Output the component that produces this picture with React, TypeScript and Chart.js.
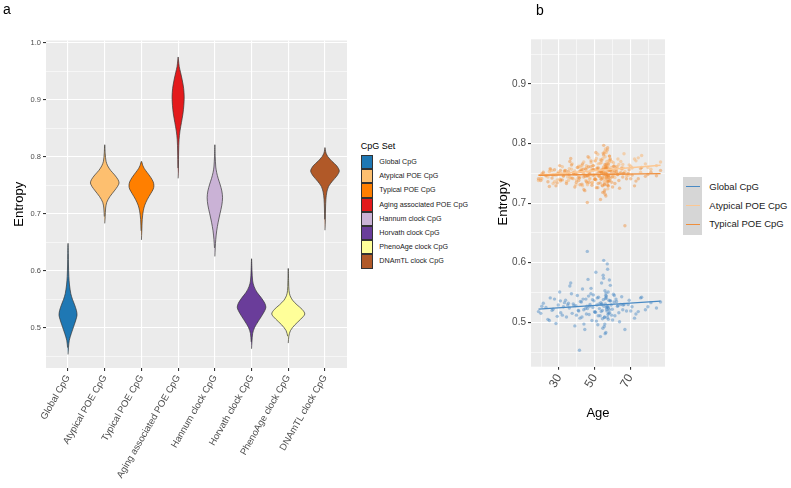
import React, { useEffect, useRef } from "react";
import { Chart, registerables } from "chart.js";
Chart.register(...registerables);

const FONT = "'Liberation Sans', Arial, Helvetica, sans-serif";

// ---------- Panel a : violins ----------
const categories = [
  "Global CpG",
  "Atypical POE CpG",
  "Typical POE CpG",
  "Aging associated POE CpG",
  "Hannum clock CpG",
  "Horvath clock CpG",
  "PhenoAge clock CpG",
  "DNAmTL clock CpG",
];
const violinColors = ["#1f78b4", "#fdbf6f", "#ff7f00", "#e31a1c", "#cab2d6", "#6a3d9a", "#ffff99", "#b15928"];

// density profiles: entropy level -> half width (category units)
const globalLevels = [0.453, 0.465, 0.478, 0.49, 0.505, 0.515, 0.522, 0.53, 0.54, 0.55, 0.56, 0.575, 0.59, 0.61, 0.63, 0.648];
const globalWidths = [0, 0.012, 0.035, 0.09, 0.17, 0.22, 0.245, 0.23, 0.18, 0.12, 0.075, 0.04, 0.022, 0.012, 0.008, 0];
const atypicalLevels = [0.683, 0.695, 0.71, 0.72, 0.73, 0.74, 0.748, 0.754, 0.76, 0.768, 0.776, 0.784, 0.792, 0.805, 0.821];
const atypicalWidths = [0, 0.012, 0.025, 0.055, 0.14, 0.26, 0.35, 0.39, 0.36, 0.27, 0.16, 0.08, 0.035, 0.014, 0];
const typicalLevels = [0.654, 0.67, 0.69, 0.705, 0.715, 0.725, 0.735, 0.743, 0.749, 0.756, 0.764, 0.772, 0.779, 0.785, 0.792];
const typicalWidths = [0, 0.01, 0.022, 0.05, 0.09, 0.16, 0.25, 0.32, 0.34, 0.32, 0.25, 0.16, 0.08, 0.035, 0];
const agingLevels = [0.762, 0.78, 0.81, 0.83, 0.845, 0.86, 0.875, 0.89, 0.905, 0.92, 0.935, 0.948, 0.958, 0.968, 0.975];
const agingWidths = [0, 0.008, 0.014, 0.025, 0.05, 0.09, 0.13, 0.155, 0.165, 0.15, 0.11, 0.065, 0.03, 0.012, 0];
const hannumLevels = [0.625, 0.64, 0.655, 0.67, 0.685, 0.7, 0.715, 0.728, 0.74, 0.752, 0.762, 0.772, 0.782, 0.8, 0.821];
const hannumWidths = [0, 0.01, 0.025, 0.05, 0.09, 0.14, 0.19, 0.21, 0.19, 0.14, 0.09, 0.05, 0.025, 0.01, 0];
const horvathLevels = [0.463, 0.475, 0.49, 0.5, 0.51, 0.52, 0.53, 0.536, 0.543, 0.552, 0.562, 0.572, 0.582, 0.6, 0.621];
const horvathWidths = [0, 0.01, 0.03, 0.08, 0.17, 0.27, 0.36, 0.39, 0.36, 0.27, 0.15, 0.07, 0.03, 0.012, 0];
const phenoLevels = [0.473, 0.485, 0.495, 0.505, 0.515, 0.524, 0.532, 0.54, 0.548, 0.556, 0.565, 0.58, 0.604];
const phenoWidths = [0, 0.015, 0.06, 0.18, 0.34, 0.45, 0.38, 0.24, 0.12, 0.05, 0.02, 0.01, 0];
const dnamtlLevels = [0.671, 0.69, 0.71, 0.725, 0.738, 0.748, 0.757, 0.766, 0.775, 0.784, 0.792, 0.8, 0.806, 0.812, 0.816];
const dnamtlWidths = [0, 0.01, 0.015, 0.025, 0.05, 0.1, 0.2, 0.32, 0.39, 0.32, 0.19, 0.08, 0.03, 0.01, 0];

const violinProfiles = [
  [globalLevels, globalWidths],
  [atypicalLevels, atypicalWidths],
  [typicalLevels, typicalWidths],
  [agingLevels, agingWidths],
  [hannumLevels, hannumWidths],
  [horvathLevels, horvathWidths],
  [phenoLevels, phenoWidths],
  [dnamtlLevels, dnamtlWidths],
];

const yMajorA = [0.5, 0.6, 0.7, 0.8, 0.9, 1.0];
const yMinorA = [0.45, 0.55, 0.65, 0.75, 0.85, 0.95];

// ---------- Panel b : entropy vs age ----------
const ages = [
  18.5, 21.2, 23.8, 25.1, 26.7, 28.3, 29.6, 30.4, 31.9, 32.5,
  33.7, 34.2, 35.8, 36.1, 37.4, 38.0, 38.9, 39.5, 40.3, 41.1,
  41.8, 42.6, 43.2, 43.9, 44.5, 45.1, 45.7, 46.3, 46.9, 47.4,
  47.9, 48.5, 49.0, 49.6, 50.2, 50.7, 51.3, 51.8, 52.2, 52.7,
  53.1, 53.5, 53.9, 54.3, 54.6, 54.9, 55.2, 55.5, 55.8, 56.0,
  56.3, 56.6, 56.9, 57.1, 57.4, 57.7, 58.0, 58.4, 58.8, 59.3,
  59.9, 60.6, 61.4, 62.3, 63.1, 64.0, 65.2, 66.5, 67.9, 69.4,
  71.0, 73.2, 75.8, 78.5, 81.6, 84.7, 20.4, 24.6, 27.5, 31.0,
  34.9, 37.0, 39.8, 42.0, 44.0, 46.0, 48.0, 50.0, 51.5, 53.3,
  54.1, 55.0, 55.6, 56.2, 56.8, 57.3, 57.9, 58.6, 60.1, 62.8,
  64.7, 67.0, 70.3, 76.4, 22.7, 29.0, 33.1, 36.6, 40.8, 43.5,
  45.4, 47.2, 49.3, 51.0, 52.5, 53.7, 54.8, 55.4, 56.1, 56.7,
  57.2, 57.6, 58.2, 59.0, 61.0, 63.6, 66.0, 72.4, 35.3, 41.5,
  44.8, 48.8, 52.0, 55.1, 55.9, 56.4, 57.0, 57.5, 58.3, 60.9,
  19.8, 26.1, 30.8, 38.4, 42.9, 46.6, 50.5, 53.8, 55.7, 56.5,
  57.8, 59.6, 62.0, 65.8, 68.8, 74.5, 79.9, 87.0, 45.9, 54.4,
];
const globalEntropy = [
  0.518, 0.532, 0.505, 0.541, 0.522, 0.498, 0.529, 0.551, 0.512, 0.526,
  0.537, 0.509, 0.524, 0.561, 0.515, 0.531, 0.494, 0.528, 0.545, 0.519,
  0.507, 0.534, 0.556, 0.521, 0.488, 0.539, 0.527, 0.572, 0.513, 0.530,
  0.548, 0.503, 0.525, 0.536, 0.517, 0.584, 0.529, 0.496, 0.542, 0.523,
  0.511, 0.533, 0.566, 0.520, 0.490, 0.538, 0.527, 0.508, 0.553, 0.531,
  0.483, 0.544, 0.519, 0.598, 0.526, 0.505, 0.537, 0.516, 0.562, 0.529,
  0.522, 0.547, 0.511, 0.535, 0.528, 0.501, 0.543, 0.530, 0.519, 0.537,
  0.526, 0.514, 0.541, 0.521, 0.533, 0.524, 0.527, 0.503, 0.539, 0.516,
  0.529, 0.548, 0.512, 0.535, 0.497, 0.523, 0.557, 0.518, 0.541, 0.476,
  0.531, 0.574, 0.509, 0.545, 0.522, 0.589, 0.515, 0.536, 0.504, 0.527,
  0.530, 0.488, 0.519, 0.542, 0.525, 0.510, 0.533, 0.566, 0.520, 0.539,
  0.514, 0.527, 0.546, 0.502, 0.531, 0.518, 0.579, 0.493, 0.540, 0.525,
  0.508, 0.551, 0.521, 0.536, 0.545, 0.516, 0.529, 0.507, 0.532, 0.453,
  0.523, 0.538, 0.511, 0.604, 0.481, 0.549, 0.526, 0.513, 0.571, 0.534,
  0.515, 0.520, 0.536, 0.528, 0.509, 0.544, 0.517, 0.530, 0.497, 0.541,
  0.524, 0.512, 0.539, 0.521, 0.530, 0.518, 0.526, 0.534, 0.619, 0.506,
];
const atypicalEntropy = [
  0.738, 0.749, 0.744, 0.756, 0.733, 0.747, 0.752, 0.740, 0.761, 0.745,
  0.750, 0.736, 0.758, 0.743, 0.766, 0.741, 0.754, 0.731, 0.748, 0.762,
  0.744, 0.757, 0.729, 0.769, 0.747, 0.738, 0.760, 0.751, 0.776, 0.742,
  0.755, 0.734, 0.763, 0.748, 0.771, 0.739, 0.758, 0.782, 0.746, 0.753,
  0.767, 0.741, 0.756, 0.730, 0.775, 0.752, 0.761, 0.744, 0.787, 0.749,
  0.758, 0.736, 0.770, 0.753, 0.724, 0.764, 0.747, 0.779, 0.741, 0.760,
  0.755, 0.768, 0.743, 0.761, 0.774, 0.750, 0.757, 0.783, 0.746, 0.764,
  0.759, 0.771, 0.752, 0.766, 0.757, 0.763, 0.741, 0.753, 0.736, 0.750,
  0.744, 0.757, 0.739, 0.762, 0.749, 0.731, 0.768, 0.745, 0.756, 0.773,
  0.741, 0.760, 0.784, 0.749, 0.766, 0.737, 0.757, 0.772, 0.745, 0.761,
  0.770, 0.753, 0.762, 0.780, 0.747, 0.739, 0.755, 0.742, 0.760, 0.751,
  0.763, 0.740, 0.757, 0.775, 0.745, 0.768, 0.752, 0.736, 0.791, 0.749,
  0.761, 0.743, 0.772, 0.756, 0.748, 0.765, 0.759, 0.774, 0.738, 0.753,
  0.758, 0.735, 0.766, 0.750, 0.778, 0.744, 0.760, 0.729, 0.769, 0.755,
  0.742, 0.755, 0.737, 0.750, 0.763, 0.746, 0.771, 0.752, 0.740, 0.785,
  0.758, 0.770, 0.751, 0.765, 0.747, 0.776, 0.760, 0.769, 0.734, 0.757,
];
const typicalEntropy = [
  0.741, 0.752, 0.736, 0.758, 0.747, 0.729, 0.750, 0.763, 0.739, 0.746,
  0.755, 0.733, 0.748, 0.770, 0.742, 0.751, 0.727, 0.749, 0.760, 0.738,
  0.731, 0.754, 0.766, 0.744, 0.721, 0.757, 0.746, 0.778, 0.735, 0.750,
  0.761, 0.730, 0.747, 0.756, 0.740, 0.785, 0.749, 0.726, 0.759, 0.745,
  0.734, 0.753, 0.772, 0.743, 0.718, 0.757, 0.748, 0.732, 0.765, 0.751,
  0.712, 0.760, 0.741, 0.789, 0.747, 0.729, 0.755, 0.738, 0.774, 0.750,
  0.744, 0.762, 0.733, 0.753, 0.748, 0.725, 0.759, 0.750, 0.741, 0.756,
  0.747, 0.737, 0.758, 0.745, 0.752, 0.746, 0.749, 0.728, 0.756, 0.739,
  0.750, 0.764, 0.735, 0.754, 0.723, 0.746, 0.771, 0.740, 0.759, 0.706,
  0.752, 0.781, 0.731, 0.761, 0.744, 0.793, 0.737, 0.755, 0.727, 0.748,
  0.751, 0.662, 0.741, 0.760, 0.746, 0.734, 0.753, 0.775, 0.743, 0.757,
  0.736, 0.748, 0.763, 0.726, 0.752, 0.740, 0.784, 0.719, 0.758, 0.747,
  0.731, 0.766, 0.743, 0.755, 0.762, 0.738, 0.750, 0.729, 0.753, 0.742,
  0.745, 0.756, 0.733, 0.797, 0.715, 0.764, 0.748, 0.736, 0.779, 0.752,
  0.738, 0.742, 0.755, 0.749, 0.732, 0.761, 0.740, 0.751, 0.722, 0.758,
  0.746, 0.735, 0.757, 0.744, 0.750, 0.741, 0.748, 0.755, 0.701, 0.729,
];

// fitted lines (end points at youngest / oldest age)
const fitAges = [18.5, 87.0];
const fitGlobal = [0.5223, 0.5357];
const fitAtypical = [0.7468, 0.7636];
const fitTypical = [0.7468, 0.7497];

const seriesNamesB = ["Global CpG", "Atypical POE CpG", "Typical POE CpG"];
const lineColorsB = ["#4a8ac4", "#fcc792", "#ee8e3c"];
const pointColorsB = ["rgba(66,134,196,0.45)", "rgba(250,180,110,0.5)", "rgba(240,140,50,0.45)"];

const yMajorB = [0.5, 0.6, 0.7, 0.8, 0.9];
const yMinorB = [0.45, 0.55, 0.65, 0.75, 0.85, 0.95];
const xMajorB = [30, 50, 70];
const xMinorB = [20, 40, 60, 80];

const panelBg = {
  id: "panelBg",
  beforeDraw(chart: any) {
    const { ctx, chartArea } = chart;
    ctx.save();
    ctx.fillStyle = "#ebebeb";
    ctx.fillRect(chartArea.left, chartArea.top, chartArea.right - chartArea.left, chartArea.bottom - chartArea.top);
    ctx.restore();
  },
};

function gridStyle(major: number[]) {
  return {
    color: "#ffffff",
    lineWidth: (c: any) => (c.tick && major.includes(c.tick.value) ? 1.1 : 0.55),
    tickColor: (c: any) => (c.tick && major.includes(c.tick.value) ? "#333333" : "rgba(0,0,0,0)"),
    tickLength: 3,
    drawTicks: true,
  };
}

function ChartA() {
  const ref = useRef<HTMLCanvasElement>(null);
  useEffect(() => {
    const datasets = violinProfiles.map(([levels, widths], i) => {
      const right = levels.map((y, k) => ({ x: i + widths[k], y }));
      const left: { x: number; y: number }[] = [];
      for (let k = levels.length - 2; k >= 1; k--) left.push({ x: i - widths[k], y: levels[k] });
      return {
        type: "line" as const,
        data: [...right, ...left],
        borderColor: "#333333",
        borderWidth: 0.7,
        backgroundColor: violinColors[i],
        fill: "shape",
        pointRadius: 0,
        tension: 0.3,
      };
    });
    const chart = new Chart(ref.current!, {
      type: "line",
      data: { datasets: datasets as any },
      options: {
        animation: false,
        responsive: false,
        events: [],
        layout: { padding: { top: 40.5, right: 5, left: 0, bottom: 0 } },
        plugins: { legend: { display: false }, tooltip: { enabled: false } },
        scales: {
          x: {
            type: "linear",
            min: -0.6,
            max: 7.6,
            afterBuildTicks: (axis: any) => {
              axis.ticks = categories.map((_, i) => ({ value: i }));
            },
            afterFit: (s: any) => {
              s.height = 120;
            },
            ticks: {
              autoSkip: false,
              minRotation: 60,
              maxRotation: 60,
              padding: 2,
              color: "#4d4d4d",
              font: { family: FONT, size: 9.5 },
              callback: (v: any) => categories[v as number],
            },
            grid: { color: "#ffffff", lineWidth: 1.1, tickColor: "#333333", tickLength: 3 },
            border: { display: false },
          },
          y: {
            type: "linear",
            min: 0.4293,
            max: 1.0039,
            afterBuildTicks: (axis: any) => {
              axis.ticks = [...yMinorA, ...yMajorA].sort((a, b) => a - b).map((v) => ({ value: v }));
            },
            afterFit: (s: any) => {
              s.width = 46;
            },
            ticks: {
              autoSkip: false,
              padding: 2,
              color: "#4d4d4d",
              font: { family: FONT, size: 7.5 },
              callback: (v: any) => (yMajorA.includes(v) ? Number(v).toFixed(1) : ""),
            },
            grid: gridStyle(yMajorA) as any,
            border: { display: false },
            title: {
              display: true,
              text: "Entropy",
              color: "#000000",
              font: { family: FONT, size: 13 },
              padding: { top: 12, bottom: 0 },
            },
          },
        },
      },
      plugins: [panelBg],
    });
    return () => chart.destroy();
  }, []);
  return <canvas ref={ref} width={352} height={488} style={{ position: "absolute", left: 0, top: 0, width: 352, height: 488 }} />;
}

function ChartB() {
  const ref = useRef<HTMLCanvasElement>(null);
  useEffect(() => {
    const entropies = [globalEntropy, atypicalEntropy, typicalEntropy];
    const fits = [fitGlobal, fitAtypical, fitTypical];
    const pointSets = entropies.map((ent, s) => ({
      type: "scatter" as const,
      label: seriesNamesB[s],
      data: ages.map((a, k) => ({ x: a, y: ent[k] })),
      backgroundColor: pointColorsB[s],
      pointRadius: 1.7,
      pointBorderWidth: 0,
      order: 10 - s,
    }));
    const lineSets = fits.map((f, s) => ({
      type: "line" as const,
      label: seriesNamesB[s] + " fit",
      data: fitAges.map((a, k) => ({ x: a, y: f[k] })),
      borderColor: lineColorsB[s],
      borderWidth: 1.3,
      pointRadius: 0,
      fill: false,
      order: 3 - s,
    }));
    const chart = new Chart(ref.current!, {
      type: "scatter",
      data: { datasets: [...pointSets, ...lineSets] as any },
      options: {
        animation: false,
        responsive: false,
        events: [],
        layout: { padding: { top: 39.3, right: 15, left: 0, bottom: 0 } },
        plugins: { legend: { display: false }, tooltip: { enabled: false } },
        scales: {
          x: {
            type: "linear",
            min: 14.3,
            max: 89.5,
            afterBuildTicks: (axis: any) => {
              axis.ticks = [...xMinorB, ...xMajorB].sort((a, b) => a - b).map((v) => ({ value: v }));
            },
            afterFit: (s: any) => {
              s.height = 121.3;
            },
            ticks: {
              autoSkip: false,
              minRotation: 60,
              maxRotation: 60,
              padding: 2,
              color: "#4d4d4d",
              font: { family: FONT, size: 12 },
              callback: (v: any) => (xMajorB.includes(v) ? String(v) : ""),
            },
            grid: gridStyle(xMajorB) as any,
            border: { display: false },
            title: {
              display: true,
              text: "Age",
              color: "#000000",
              font: { family: FONT, size: 13 },
              padding: { top: 0, bottom: 67 },
            },
          },
          y: {
            type: "linear",
            min: 0.4255,
            max: 0.975,
            afterBuildTicks: (axis: any) => {
              axis.ticks = [...yMinorB, ...yMajorB].sort((a, b) => a - b).map((v) => ({ value: v }));
            },
            afterFit: (s: any) => {
              s.width = 41;
            },
            ticks: {
              autoSkip: false,
              padding: 2,
              color: "#4d4d4d",
              font: { family: FONT, size: 10 },
              callback: (v: any) => (yMajorB.includes(v) ? Number(v).toFixed(1) : ""),
            },
            grid: gridStyle(yMajorB) as any,
            border: { display: false },
            title: {
              display: true,
              text: "Entropy",
              color: "#000000",
              font: { family: FONT, size: 13 },
              padding: { top: 6, bottom: 0 },
            },
          },
        },
      },
      plugins: [panelBg],
    });
    return () => chart.destroy();
  }, []);
  return <canvas ref={ref} width={190} height={488} style={{ position: "absolute", left: 490, top: 0, width: 190, height: 488 }} />;
}

function LegendA() {
  return (
    <div style={{ position: "absolute", left: 0, top: 0, fontFamily: FONT }}>
      <div style={{ position: "absolute", left: 360.7, top: 140.5, fontSize: 9, lineHeight: "11px", color: "#000", whiteSpace: "nowrap" }}>CpG Set</div>
      {categories.map((c, i) => (
        <React.Fragment key={c}>
          <div
            style={{
              position: "absolute",
              left: 360.7,
              top: 155 + i * 14.2,
              width: 12.7,
              height: 14.2,
              boxSizing: "border-box",
              border: "0.7px solid #333",
              background: violinColors[i],
            }}
          />
          <div
            style={{
              position: "absolute",
              left: 379.3,
              top: 155 + i * 14.2,
              height: 14.2,
              lineHeight: "14.2px",
              fontSize: 7.2,
              color: "#1a1a1a",
              whiteSpace: "nowrap",
            }}
          >
            {c}
          </div>
        </React.Fragment>
      ))}
    </div>
  );
}

function LegendB() {
  const rowY = [186.7, 205.7, 224.3];
  return (
    <div style={{ position: "absolute", left: 0, top: 0, fontFamily: FONT }}>
      <div style={{ position: "absolute", left: 682.7, top: 176.7, width: 19.6, height: 58.3, background: "#d6d6d6" }} />
      {seriesNamesB.map((n, i) => (
        <React.Fragment key={n}>
          <div style={{ position: "absolute", left: 685.5, top: rowY[i] - 0.6, width: 14, height: 1.2, background: lineColorsB[i] }} />
          <div
            style={{
              position: "absolute",
              left: 709.3,
              top: rowY[i] - 7,
              lineHeight: "14px",
              fontSize: 9.5,
              color: "#1a1a1a",
              whiteSpace: "nowrap",
            }}
          >
            {n}
          </div>
        </React.Fragment>
      ))}
    </div>
  );
}

export default function App() {
  return (
    <div style={{ position: "absolute", left: 0, top: 0, width: 791, height: 488, background: "#fff", overflow: "hidden" }}>
      <ChartA />
      <ChartB />
      <LegendA />
      <LegendB />
      <div style={{ position: "absolute", left: 3, top: 1, fontFamily: FONT, fontSize: 14, lineHeight: "16px", color: "#000" }}>a</div>
      <div style={{ position: "absolute", left: 536, top: 2, fontFamily: FONT, fontSize: 14, lineHeight: "16px", color: "#000" }}>b</div>
    </div>
  );
}
